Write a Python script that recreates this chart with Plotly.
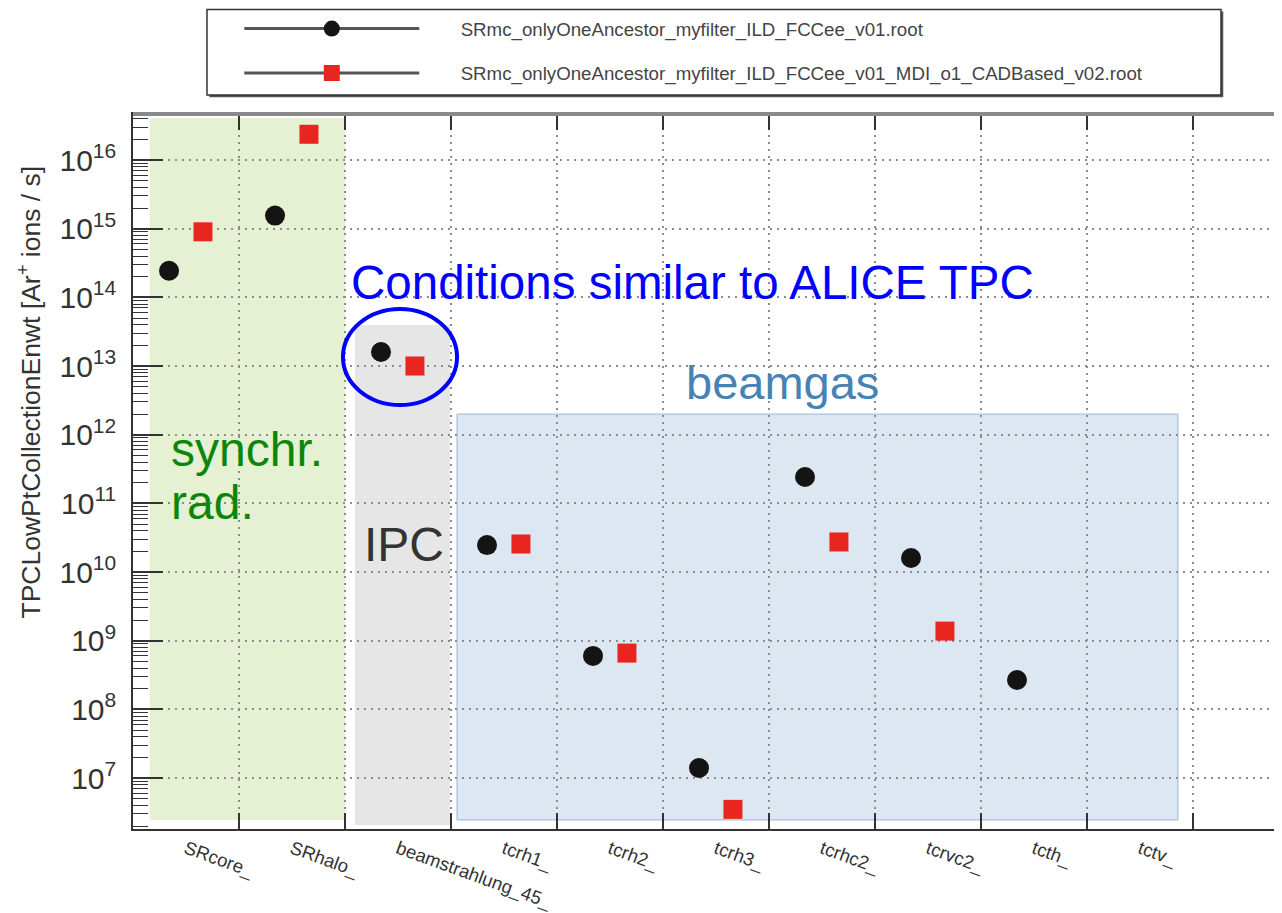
import plotly.graph_objects as go

categories = ["SRcore_", "SRhalo_", "beamstrahlung_45_", "tcrh1_", "tcrh2_",
              "tcrh3_", "tcrhc2_", "tcrvc2_", "tcth_", "tctv_"]
v01 = [2.44e14, 1.55e15, 1.6e13, 2.47e10, 6.0e8, 1.4e7, 2.42e11, 1.6e10, 2.68e8, None]
v02 = [9.0e14, 2.37e16, 1.0e13, 2.56e10, 6.6e8, 3.5e6, 2.74e10, 1.38e9, None, None]
name01 = "SRmc_onlyOneAncestor_myfilter_ILD_FCCee_v01.root"
name02 = "SRmc_onlyOneAncestor_myfilter_ILD_FCCee_v01_MDI_o1_CADBased_v02.root"
y_title = "TPCLowPtCollectionEnwt [Ar<sup>+</sup> ions / s]"

BLACK = "#141414"
RED = "#e8251f"
FONT = "Liberation Sans, Arial, sans-serif"
PAD = "\u00a0" * 7  # gap between legend symbol and label

fig = go.Figure()
fig.add_trace(go.Scatter(x=categories, y=v01, mode="markers", name=name01,
                         offsetgroup="a", showlegend=False,
                         marker=dict(symbol="circle", size=20, color=BLACK)))
fig.add_trace(go.Scatter(x=categories, y=v02, mode="markers", name=name02,
                         offsetgroup="b", showlegend=False,
                         marker=dict(symbol="square", size=19, color=RED)))
# legend entries (line + marker, as in the ROOT legend)
fig.add_trace(go.Scatter(x=[None], y=[None], mode="lines+markers", name=PAD + name01,
                         legendgroup="g1",
                         line=dict(color="#555", width=3),
                         marker=dict(symbol="circle", size=20, color=BLACK)))
fig.add_trace(go.Scatter(x=[None], y=[None], mode="lines+markers", name=PAD + name02,
                         legendgroup="g2",
                         line=dict(color="#555", width=3),
                         marker=dict(symbol="square", size=19, color=RED)))

shapes = [
    dict(type="rect", xref="x", yref="y", x0=-0.34, x1=1.5, y0=10**6.39, y1=10**16.61,
         fillcolor="#e6f0d2", line=dict(width=0), layer="below"),
    dict(type="rect", xref="x", yref="y", x0=1.594, x1=2.49, y0=10**6.316, y1=10**13.597,
         fillcolor="#e6e6e6", line=dict(width=0), layer="below"),
    dict(type="rect", xref="x", yref="y", x0=2.557, x1=9.358, y0=10**6.39, y1=10**12.30,
         fillcolor="#dde7f2", line=dict(width=1, color="#9bb5da"), layer="below"),
    dict(type="circle", xref="x", yref="y", x0=1.481, x1=2.557, y0=10**12.432, y1=10**13.83,
         line=dict(width=4, color="#0000ff"), layer="above"),
    # top frame line
    dict(type="line", xref="paper", yref="paper", x0=0, x1=1, y0=1, y1=1,
         line=dict(width=4, color="#8a8a8a")),
    # legend box shadow + box
    dict(type="rect", xref="paper", yref="paper", x0=0.0664, x1=0.9489, y0=1.0236, y1=1.1432,
         fillcolor="#555", line=dict(width=0)),
    dict(type="rect", xref="paper", yref="paper", x0=0.0644, x1=0.9469, y0=1.0266, y1=1.1462,
         fillcolor="white", line=dict(width=1.5, color="#333")),
]

annotations = [
    dict(text="Conditions similar to ALICE TPC", x=1.54, y=14.223, xref="x", yref="y",
         xanchor="left", yanchor="middle", showarrow=False,
         font=dict(size=47.5, color="#0000ff", family=FONT)),
    dict(text="beamgas", x=5.623, y=12.767, xref="x", yref="y",
         xanchor="center", yanchor="middle", showarrow=False,
         font=dict(size=47, color="#4682b4", family=FONT)),
    dict(text="synchr.", x=-0.16, y=11.791, xref="x", yref="y",
         xanchor="left", yanchor="middle", showarrow=False,
         font=dict(size=48, color="#0a870a", family=FONT)),
    dict(text="rad.", x=-0.16, y=11.012, xref="x", yref="y",
         xanchor="left", yanchor="middle", showarrow=False,
         font=dict(size=48, color="#0a870a", family=FONT)),
    dict(text="IPC", x=1.665, y=10.408, xref="x", yref="y",
         xanchor="left", yanchor="middle", showarrow=False,
         font=dict(size=48, color="#333333", family=FONT)),
    dict(text=y_title, textangle=-90, x=-0.0905, y=0.6105, xref="paper", yref="paper",
         xanchor="center", yanchor="middle", showarrow=False,
         font=dict(size=26.5, color="#333", family=FONT)),
]

fig.update_layout(
    width=1274, height=905,
    margin=dict(l=125, r=0, t=106, b=84),
    paper_bgcolor="white", plot_bgcolor="white",
    font=dict(family=FONT, color="#333"),
    scattermode="group", scattergap=0.36,
    shapes=shapes, annotations=annotations,
    showlegend=True,
    legend=dict(x=0.0925, y=1.1455, xanchor="left", yanchor="top",
                bgcolor="rgba(0,0,0,0)", borderwidth=0,
                font=dict(size=18.7, color="#444", family=FONT),
                itemwidth=175, tracegroupgap=17),
    xaxis=dict(type="category", categoryorder="array", categoryarray=categories,
               range=[-0.5, 10.34], tickson="boundaries", automargin=False,
               ticks="inside", ticklen=16, tickwidth=1.5, tickcolor="#333",
               tickangle=20, tickfont=dict(size=18.5, color="#333"),
               showline=True, linecolor="#333", linewidth=2, mirror="ticks",
               showgrid=True, gridcolor="#8c8c8c", gridwidth=2, griddash="2px,5px",
               zeroline=False),
    yaxis=dict(type="log", range=[6.258, 16.67], dtick=1, automargin=False,
               exponentformat="power", showexponent="all",
               ticks="inside", ticklen=30, tickwidth=1.5, tickcolor="#333",
               minor=dict(ticks="inside", ticklen=15, tickwidth=1, tickcolor="#333",
                          dtick="D1", showgrid=False),
               tickfont=dict(size=24, color="#333"), ticklabelstandoff=10,
               showline=True, linecolor="#333", linewidth=2,
               showgrid=True, gridcolor="#8c8c8c", gridwidth=2, griddash="2px,5px",
               zeroline=False),
)

fig.write_html("out.html")
